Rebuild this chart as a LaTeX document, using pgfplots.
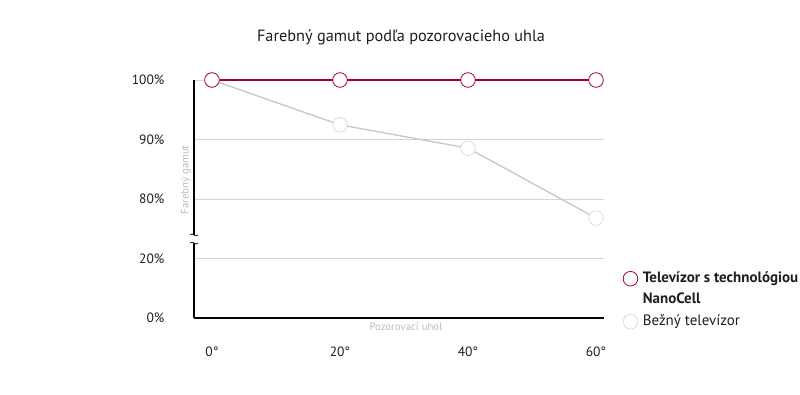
\documentclass[border=0pt]{standalone}
\usepackage{fontspec}
\setmainfont{PT Sans}
\usepackage{pgfplots}
\usepackage{pgfplotstable}
\pgfplotsset{compat=1.18}
\definecolor{lgred}{HTML}{A50034}
\definecolor{lggray}{HTML}{C6C6C6}
\definecolor{mkgray}{HTML}{DCDCDC}
\definecolor{gridc}{HTML}{D4D4D4}
\definecolor{lbl}{HTML}{BDBDBD}
\definecolor{txt}{HTML}{1E1E1E}
\pgfplotstableread{
angle nano std
0 100 100
20 100 92.46
40 100 88.55
60 100 76.8
}\data
\begin{document}
\begin{tikzpicture}
\useasboundingbox (0,0) rectangle (800bp,395bp);
\begin{axis}[
 at={(194bp,77bp)}, anchor=south west,
 scale only axis, width=410bp, height=238bp,
 xmin=-2.81, xmax=61.25, ymin=0, ymax=4,
 axis lines=left, axis line style={-},
 x axis line style={line width=1.4bp, black, -},
 y axis line style={draw=none, -},
 xtick={0,20,40,60}, xticklabels={0°,20°,40°,60°},
 ytick={0,1,2,3,4}, yticklabels={0\%,20\%,80\%,90\%,100\%},
 tick style={draw=none},
 ymajorgrids, grid style={gridc, line width=0.8bp},
 ticklabel style={font=\fontsize{13.5bp}{15bp}\selectfont, text=txt},
 xticklabel style={yshift=-23bp},
 yticklabel style={xshift=-24bp},
 xlabel={Pozorovací uhol}, ylabel={Farebný gamut},
 label style={font=\fontsize{10.8bp}{12bp}\selectfont, text=lbl},
 xlabel style={at={(axis description cs:0.517,0)}, anchor=center, yshift=-9bp},
 ylabel style={at={(axis description cs:-0.0195,0.58)}, anchor=center},
 clip=false,
 legend style={at={(axis description cs:1.0463,0.2016)}, anchor=north west, draw=none, fill=none, inner sep=0pt, row sep=4.5bp, column sep=3bp,
   font=\fontsize{15bp}{17bp}\selectfont, text=txt,
   nodes={text height=10bp, text depth=3bp, inner sep=2bp}},
 legend cell align=left,
 legend image code/.code={\draw[#1] plot coordinates {(0bp,0bp)};},
]
\addlegendimage{lgred, line width=2bp, mark=*, mark size=7.3bp, mark options={fill=white, draw=lgred, line width=0.8bp}}
\addlegendentry{\textbf{Televízor s technológiou}}
\addlegendimage{empty legend}
\addlegendentry{\textbf{NanoCell}}
\addlegendimage{lggray, line width=1.3bp, mark=*, mark size=7.3bp, mark options={fill=white, draw=mkgray, line width=0.8bp}}
\addlegendentry{Bežný televízor}

\addplot[forget plot, lggray, line width=1.3bp, mark=*, mark size=7.3bp, mark options={fill=white, draw=mkgray, line width=0.8bp}]
 table[x=angle, y expr={\thisrow{std}>=50 ? 2+(\thisrow{std}-80)/10 : \thisrow{std}/20}] {\data};
\addplot[forget plot, lgred, line width=2bp, mark=*, mark size=7.3bp, mark options={fill=white, draw=lgred, line width=0.8bp}]
 table[x=angle, y expr={\thisrow{nano}>=50 ? 2+(\thisrow{nano}-80)/10 : \thisrow{nano}/20}] {\data};

\draw[black, line width=1.2bp] (rel axis cs:0,1) -- (rel axis cs:0,0.349);
\draw[black, line width=1.2bp] (rel axis cs:0,0.315) -- (rel axis cs:0,0);
\draw[black, line width=0.7bp] ([xshift=-4bp]rel axis cs:0,0.349) sin ++(2bp,1bp) cos ++(2bp,-1bp) sin ++(2bp,-1bp) cos ++(2bp,1bp);
\draw[black, line width=0.7bp] ([xshift=-4bp]rel axis cs:0,0.315) sin ++(2bp,1bp) cos ++(2bp,-1bp) sin ++(2bp,-1bp) cos ++(2bp,1bp);
\end{axis}
\node[font=\fontsize{16.3bp}{18bp}\selectfont, text=txt] at (401bp,358bp) {Farebný gamut podľa pozorovacieho uhla};
\end{tikzpicture}
\end{document}
